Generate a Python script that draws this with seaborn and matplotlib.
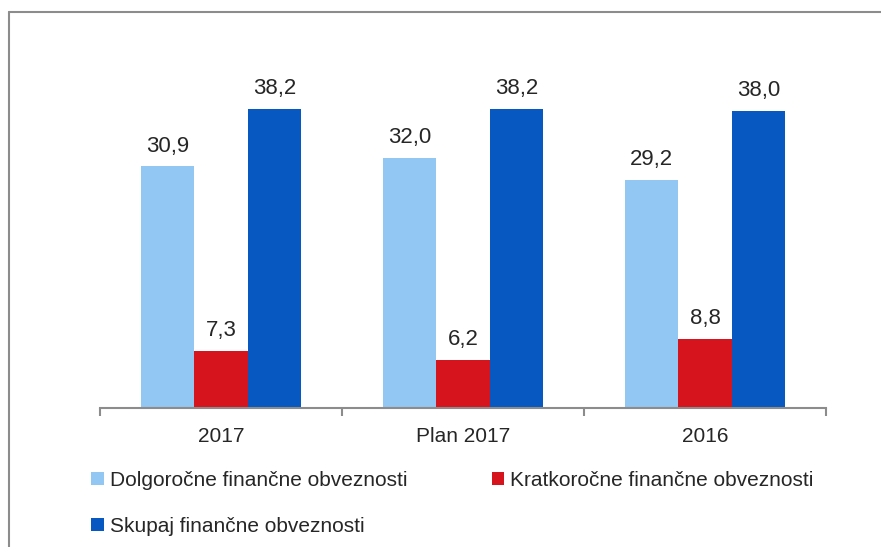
import pandas as pd
import seaborn as sns
import matplotlib.pyplot as plt
from matplotlib.lines import Line2D

# values
CATEGORIES = ["2017", "Plan 2017", "2016"]
SERIES = ["Dolgoročne finančne obveznosti",
          "Kratkoročne finančne obveznosti",
          "Skupaj finančne obveznosti"]
DOLGOROCNE = [30.9, 32.0, 29.2]
KRATKOROCNE = [7.3, 6.2, 8.8]
SKUPAJ = [38.2, 38.2, 38.0]
COLORS = ["#92C6F3", "#D6141D", "#0858C1"]


def build_frame():
    """Long table for seaborn."""
    rows = []
    for name, values in zip(SERIES, [DOLGOROCNE, KRATKOROCNE, SKUPAJ]):
        for cat, val in zip(CATEGORIES, values):
            rows.append({"kategorija": cat, "serija": name, "vrednost": val})
    return pd.DataFrame(rows)


def plot_bars(df):
    sns.set_style("white")
    plt.rcParams["font.family"] = ["Liberation Sans", "DejaVu Sans"]

    fig = plt.figure(figsize=(8.81, 5.47), dpi=100)
    ax = fig.add_axes([100 / 881, 1 - 408 / 547, 726 / 881, 352 / 547])

    sns.barplot(data=df, x="kategorija", y="vrednost", hue="serija",
                order=CATEGORIES, hue_order=SERIES,
                palette=dict(zip(SERIES, COLORS)), saturation=1,
                width=0.66, ax=ax, linewidth=0)

    for container in ax.containers:
        ax.bar_label(container, labels=[f"{v:.1f}".replace(".", ",") for v in container.datavalues],
                     padding=7, fontsize=16)

    ax.set_xlim(-0.5, 2.5)
    ax.set_ylim(0, 45)
    ax.set_xlabel("")
    ax.set_ylabel("")
    ax.set_yticks([])
    for side in ["top", "right", "left"]:
        ax.spines[side].set_visible(False)
    ax.spines["bottom"].set_color("#8c8c8c")
    ax.spines["bottom"].set_linewidth(1.5)

    ax.set_xticks([-0.5, 0.5, 1.5, 2.5], minor=True)
    ax.tick_params(axis="x", which="minor", bottom=True, length=6, width=1.5,
                   color="#8c8c8c", direction="out")
    ax.tick_params(axis="x", which="major", length=0, pad=14, labelsize=15)

    handles, labels = ax.get_legend_handles_labels()
    ax.get_legend().remove()
    order = [0, 2, 1]
    fig.legend([handles[i] for i in order], [labels[i] for i in order],
               ncol=2, loc="upper left", bbox_to_anchor=(91 / 881, 1 - 471 / 547),
               frameon=False, fontsize=15, handlelength=0.6, handleheight=0.6,
               handletextpad=0.3, labelspacing=1.3, columnspacing=4.05,
               borderpad=0, borderaxespad=0)

    # outer frame: top and left edge only
    fig.add_artist(Line2D([9 / 881, 1], [1 - 12 / 547] * 2, color="#8c8c8c", lw=1.5))
    fig.add_artist(Line2D([9 / 881] * 2, [0, 1 - 12 / 547], color="#8c8c8c", lw=1.5))

    fig.savefig("out.png", dpi=100)


if __name__ == "__main__":
    data = build_frame()
    plot_bars(data)
